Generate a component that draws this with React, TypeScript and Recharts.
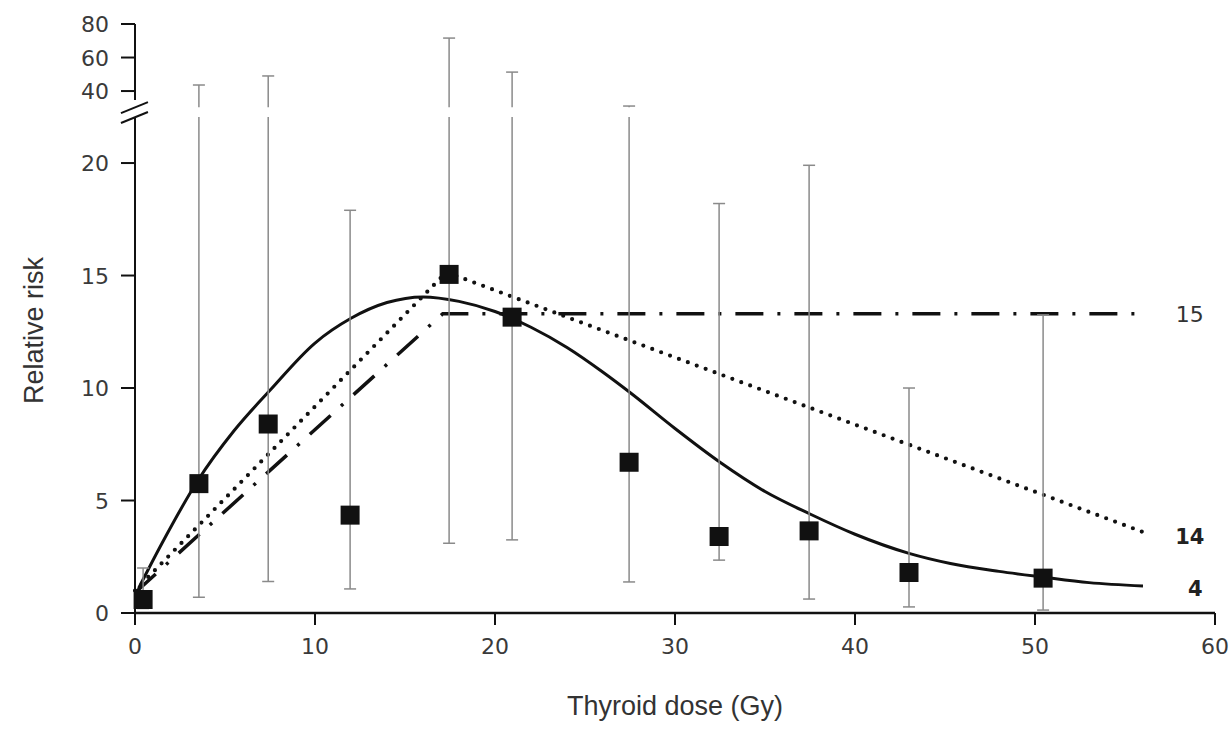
import React from "react";
import {
  ComposedChart,
  Line,
  Scatter,
  ErrorBar,
  XAxis,
  YAxis,
  ReferenceLine,
  ReferenceArea,
  ReferenceDot,
} from "recharts";

// Observed relative risk by thyroid dose, with confidence limits
const obsDose = [0.45, 3.55, 7.4, 11.95, 17.45, 20.95, 27.45, 32.45, 37.45, 43.0, 50.45];
const obsRisk = [0.6, 5.75, 8.4, 4.35, 15.05, 13.15, 6.7, 3.4, 3.65, 1.8, 1.55];
const ciLow = [0.2, 0.7, 1.4, 1.07, 3.1, 3.25, 1.38, 2.35, 0.62, 0.27, 0.13];
const ciHigh = [2.0, 43.6, 49, 17.9, 71.6, 51.3, 30, 18.2, 19.9, 10.0, 13.25];

// Model curves
const smoothDose = [0.2, 1.5, 3.5, 5.5, 7.5, 10, 12, 14, 16, 18, 20, 22, 24, 26, 27.5, 30, 32.5, 35, 37.5, 40, 43, 45.3, 48, 50.4, 53, 56];
const smoothRisk = [1.1, 3.1, 5.9, 8.1, 9.9, 12.0, 13.1, 13.8, 14.05, 13.85, 13.4, 12.7, 11.8, 10.7, 9.8, 8.2, 6.7, 5.4, 4.4, 3.5, 2.65, 2.2, 1.85, 1.6, 1.35, 1.2];
const dottedDose = [0, 17.3, 56];
const dottedRisk = [1.0, 15.15, 3.6];
const dashDotDose = [0, 17.1, 56];
const dashDotRisk = [0.9, 13.3, 13.3];

const xTicks = [0, 10, 20, 30, 40, 50, 60];
const yTicksLow = [0, 5, 10, 15, 20];
const yTicksHigh = [40, 60, 80];

// broken axis: linear up to 22, squeezed gap to 40, compressed scale above
const T40 = 23.2;
const PER_UNIT_HIGH = 0.0745;
function toAxis(v: number) {
  if (v <= 22) return v;
  if (v < 40) return 22 + ((v - 22) * (T40 - 22)) / 18;
  return T40 + (v - 40) * PER_UNIT_HIGH;
}

const yTicks = [...yTicksLow, ...yTicksHigh.map(toAxis)];
const yLabelFor = (v: number) => {
  const hi = yTicksHigh.find((h) => Math.abs(toAxis(h) - v) < 1e-6);
  return hi !== undefined ? String(hi) : String(v);
};

const scatterData = obsDose.map((x, i) => {
  const y = toAxis(obsRisk[i]);
  return { x, y, err: [y - toAxis(ciLow[i]), toAxis(ciHigh[i]) - y] };
});
const zip = (xs: number[], ys: number[]) => xs.map((x, i) => ({ x, y: ys[i] }));

const ink = "#111";
const tickFont = "DejaVu Sans, Verdana, sans-serif";
const titleFont = "Liberation Sans, Arial, sans-serif";

const XTick = (p: any) => (
  <text x={p.x} y={p.y} dy={20} textAnchor="middle" fontFamily={tickFont} fontSize={22} fill="#3a3a3a">
    {p.payload.value}
  </text>
);
const YTick = (p: any) => (
  <text x={p.x} y={p.y} dy={8} textAnchor="end" fontFamily={tickFont} fontSize={22} fill="#3a3a3a">
    {yLabelFor(p.payload.value)}
  </text>
);

const Square = (props: any) => (
  <rect x={props.cx - 9.5} y={props.cy - 9.5} width={19} height={19} fill={ink} />
);

export default function App() {
  const yTop = toAxis(80);
  return (
    <div style={{ position: "absolute", left: 0, top: 0, background: "#fff" }}>
      <ComposedChart
        width={1229}
        height={750}
        margin={{ top: 24, right: 14, bottom: 0, left: 0 }}
      >
        <XAxis
          type="number"
          dataKey="x"
          domain={[0, 60]}
          ticks={xTicks}
          height={137}
          axisLine={{ stroke: ink, strokeWidth: 2.5 }}
          tickLine={{ stroke: ink, strokeWidth: 2 }}
          tickSize={12}
          tickMargin={9}
          tick={XTick}
          label={{
            content: (p: any) => (
              <text
                x={p.viewBox.x + p.viewBox.width / 2}
                y={p.viewBox.y + 102}
                textAnchor="middle"
                fontFamily={titleFont}
                fontSize={27}
                fill="#333"
              >
                Thyroid dose (Gy)
              </text>
            ),
          }}
        />
        <YAxis
          type="number"
          dataKey="y"
          domain={[0, yTop]}
          ticks={yTicks}
          allowDataOverflow
          width={135}
          axisLine={false}
          tickLine={{ stroke: ink, strokeWidth: 2 }}
          tickSize={14}
          tickMargin={12}
          tick={YTick}
          label={{
            content: (p: any) => (
              <text
                x={34}
                y={p.viewBox.y + p.viewBox.height / 2 + 12}
                transform={`rotate(-90 34 ${p.viewBox.y + p.viewBox.height / 2 + 12})`}
                textAnchor="middle"
                dominantBaseline="central"
                fontFamily={titleFont}
                fontSize={27}
                fill="#333"
              >
                Relative risk
              </text>
            ),
          }}
        />

        {/* broken y axis line and break marks */}
        <ReferenceLine
          segment={[{ x: 0, y: 0 }, { x: 0, y: 22.0 }]}
          stroke={ink}
          strokeWidth={2}
          ifOverflow="visible"
        />
        <ReferenceLine
          segment={[{ x: 0, y: 22.8 }, { x: 0, y: yTop }]}
          stroke={ink}
          strokeWidth={2}
          ifOverflow="visible"
        />
        <ReferenceLine
          segment={[{ x: -0.78, y: 22.22 }, { x: 0.72, y: 22.71 }]}
          stroke={ink}
          strokeWidth={2}
          ifOverflow="visible"
        />
        <ReferenceLine
          segment={[{ x: -0.78, y: 21.78 }, { x: 0.72, y: 22.27 }]}
          stroke={ink}
          strokeWidth={2}
          ifOverflow="visible"
        />

        <Line
          data={zip(smoothDose, smoothRisk)}
          dataKey="y"
          type="monotone"
          stroke={ink}
          strokeWidth={3}
          dot={false}
          isAnimationActive={false}
        />
        <Line
          data={zip(dottedDose, dottedRisk)}
          dataKey="y"
          type="linear"
          stroke={ink}
          strokeWidth={4.2}
          strokeDasharray="0 9.5"
          strokeLinecap="round"
          dot={false}
          isAnimationActive={false}
        />
        <Line
          data={zip(dashDotDose, dashDotRisk)}
          dataKey="y"
          type="linear"
          stroke={ink}
          strokeWidth={3.5}
          strokeDasharray="28 14 3 14"
          dot={false}
          isAnimationActive={false}
        />

        <Scatter data={scatterData} dataKey="y" shape={Square} isAnimationActive={false}>
          <ErrorBar
            dataKey="err"
            direction="y"
            width={6}
            stroke="#8a8a8a"
            strokeWidth={1.5}
            isAnimationActive={false}
          />
        </Scatter>

        {/* gap in the error bars at the axis break */}
        <ReferenceArea
          x1={1.5}
          x2={60}
          y1={22.05}
          y2={22.48}
          fill="#fff"
          fillOpacity={1}
          stroke="none"
          ifOverflow="visible"
          zIndex={2000}
        />

        <ReferenceDot
          x={58.6}
          y={13.3}
          r={0}
          ifOverflow="visible"
          label={{ value: "15", position: "center", fontFamily: tickFont, fontSize: 22, fill: "#333" }}
        />
        <ReferenceDot
          x={58.6}
          y={3.4}
          r={0}
          ifOverflow="visible"
          label={{ value: "14", position: "center", fontFamily: tickFont, fontWeight: "bold", fontSize: 21, fill: "#222" }}
        />
        <ReferenceDot
          x={58.9}
          y={1.1}
          r={0}
          ifOverflow="visible"
          label={{ value: "4", position: "center", fontFamily: tickFont, fontWeight: "bold", fontSize: 21, fill: "#222" }}
        />
      </ComposedChart>
    </div>
  );
}
